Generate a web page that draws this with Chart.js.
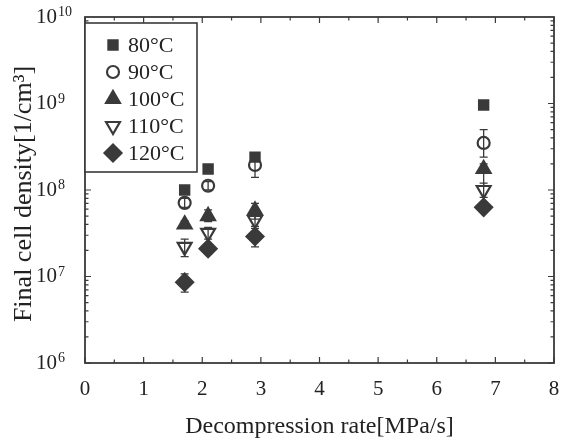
<!DOCTYPE html>
<html>
<head>
<meta charset="utf-8">
<script src="https://cdn.jsdelivr.net/npm/chart.js@4"></script>
<style>
  html, body { margin: 0; padding: 0; background: #fff; }
  #wrap { width: 565px; height: 441px; }
</style>
</head>
<body>
<div id="wrap"><canvas id="cellChart"></canvas></div>
<script>
// decompression rate [MPa/s]
const rates = [1.7, 2.1, 2.9, 6.8];
const temps = ['80\u00b0C', '90\u00b0C', '100\u00b0C', '110\u00b0C', '120\u00b0C'];

// final cell density [1/cm3]
const density80  = [1.0e8, 1.75e8, 2.4e8, 9.6e8];
const density90  = [7.1e7, 1.12e8, 1.95e8, 3.5e8];
const density100 = [4.0e7, 5.0e7, 5.8e7, 1.75e8];
const density110 = [2.2e7, 3.2e7, 4.5e7, 1.0e8];
const density120 = [8.6e6, 2.1e7, 2.9e7, 6.3e7];

// error bars, low / high
const low80  = [9.2e7, 1.65e8, 2.2e8, 8.8e8];
const high80 = [1.08e8, 1.85e8, 2.6e8, 1.05e9];
const low90  = [6.3e7, 1.0e8, 1.4e8, 2.4e8];
const high90 = [8.0e7, 1.25e8, 2.6e8, 5.0e8];
const low100  = [3.6e7, 4.3e7, 4.6e7, 1.1e8];
const high100 = [4.4e7, 5.9e7, 7.0e7, 2.0e8];
const low110  = [1.7e7, 2.7e7, 3.8e7, 8.2e7];
const high110 = [2.7e7, 3.7e7, 5.2e7, 1.2e8];
const low120  = [6.6e6, 1.8e7, 2.2e7, 5.6e7];
const high120 = [1.07e7, 2.4e7, 3.6e7, 7.0e7];

const yTicks = [1e6, 1e7, 1e8, 1e9, 1e10];
const xTicks = [0, 1, 2, 3, 4, 5, 6, 7, 8];

const ink = '#3a3a3a';
const textInk = '#222';
const serif = "'Liberation Serif', 'Times New Roman', serif";

function toPoints(ys, lo, hi) {
    return rates.map((x, i) => ({ x: x, y: ys[i], lo: lo[i], hi: hi[i] }));
}

const styles = [
    { pointStyle: 'rect', radius: 6.5, fill: ink, rot: 0 },
    { pointStyle: 'circle', radius: 6, fill: '#fff', rot: 0 },
    { pointStyle: 'triangle', radius: 8, fill: ink, rot: 0 },
    { pointStyle: 'triangle', radius: 8, fill: '#fff', rot: 180 },
    { pointStyle: 'rectRot', radius: 8.5, fill: ink, rot: 0 }
];
const series = [
    toPoints(density80, low80, high80),
    toPoints(density90, low90, high90),
    toPoints(density100, low100, high100),
    toPoints(density110, low110, high110),
    toPoints(density120, low120, high120)
];

const datasets = temps.map((t, i) => ({
    label: t,
    data: series[i],
    pointStyle: styles[i].pointStyle,
    pointRadius: styles[i].radius,
    pointRotation: styles[i].rot,
    pointBackgroundColor: styles[i].fill,
    pointBorderColor: ink,
    pointBorderWidth: 2.2,
    showLine: false
}));

function noPad(s) {
    s.paddingTop = 0; s.paddingBottom = 0;
    s.paddingLeft = 0; s.paddingRight = 0;
}

// frame, inward ticks and error bars
const framePlugin = {
    id: 'frame',
    afterDatasetsDraw(chart) {
        const c = chart.ctx, a = chart.chartArea;
        const xs = chart.scales.x, ys = chart.scales.y;
        c.save();
        c.strokeStyle = ink;
        // error bars
        c.lineWidth = 1.3;
        chart.data.datasets.forEach(ds => {
            ds.data.forEach(p => {
                const px = xs.getPixelForValue(p.x);
                const y1 = ys.getPixelForValue(p.lo), y2 = ys.getPixelForValue(p.hi);
                c.beginPath();
                c.moveTo(px, y1); c.lineTo(px, y2);
                c.moveTo(px - 4, y1); c.lineTo(px + 4, y1);
                c.moveTo(px - 4, y2); c.lineTo(px + 4, y2);
                c.stroke();
            });
        });
        // border
        c.lineWidth = 1.8;
        c.strokeRect(a.left, a.top, a.right - a.left, a.bottom - a.top);
        c.lineWidth = 1.2;
        c.beginPath();
        for (let v = 0; v <= 8; v += 0.5) {
            const px = xs.getPixelForValue(v);
            const len = Number.isInteger(v) ? 6 : 3.5;
            c.moveTo(px, a.bottom); c.lineTo(px, a.bottom - len);
            c.moveTo(px, a.top); c.lineTo(px, a.top + len);
        }
        for (let e = 6; e < 10; e++) {
            for (let m = 1; m <= 9; m++) {
                const py = ys.getPixelForValue(m * Math.pow(10, e));
                const len = m === 1 ? 6 : 3.5;
                c.moveTo(a.left, py); c.lineTo(a.left + len, py);
                c.moveTo(a.right, py); c.lineTo(a.right - len, py);
            }
        }
        c.stroke();
        c.restore();
    }
};

// exponents of the y labels and the rotated y title
const labelPlugin = {
    id: 'labels',
    afterDraw(chart) {
        const c = chart.ctx, a = chart.chartArea, ys = chart.scales.y;
        c.save();
        c.fillStyle = textInk;
        c.font = '14px ' + serif;
        c.textAlign = 'left';
        c.textBaseline = 'alphabetic';
        yTicks.forEach(v => {
            const py = ys.getPixelForValue(v);
            c.fillText(String(Math.round(Math.log10(v))), a.left - 27, py - 1);
        });
        c.translate(24, 194);
        c.rotate(-Math.PI / 2);
        c.font = '26px ' + serif;
        c.textAlign = 'center';
        c.textBaseline = 'middle';
        c.fillText('Final cell density[1/cm\u00b3]', 0, 0);
        c.restore();
    }
};

// legend box inside the plot
const legendPlugin = {
    id: 'boxLegend',
    afterDraw(chart) {
        const c = chart.ctx, a = chart.chartArea;
        const left = a.left, top = a.top + 6, w = 112, h = 149;
        c.save();
        c.fillStyle = '#fff';
        c.fillRect(left, top, w, h);
        c.strokeStyle = ink;
        c.lineWidth = 1.6;
        c.strokeRect(left, top, w, h);
        c.font = '22px ' + serif;
        c.textBaseline = 'middle';
        chart.data.datasets.forEach((ds, i) => {
            const cy = top + 22 + i * 27;
            const cx = left + 28;
            c.fillStyle = ds.pointBackgroundColor;
            c.strokeStyle = ink;
            c.lineWidth = 2.2;
            Chart.helpers.drawPoint(c, {
                pointStyle: ds.pointStyle,
                rotation: ds.pointRotation,
                radius: ds.pointRadius,
                borderWidth: 2.2
            }, cx, cy);
            c.fillStyle = textInk;
            c.fillText(ds.label, left + 43, cy + 1);
        });
        c.restore();
    }
};

new Chart(document.getElementById('cellChart'), {
    type: 'scatter',
    data: { datasets: datasets },
    options: {
        responsive: true,
        maintainAspectRatio: false,
        animation: false,
        layout: { padding: { top: 17, right: 11, left: 0, bottom: 0 } },
        plugins: {
            legend: { display: false },
            tooltip: { enabled: false }
        },
        scales: {
            x: {
                type: 'linear',
                min: 0,
                max: 8,
                afterBuildTicks: s => { s.ticks = xTicks.map(v => ({ value: v })); },
                grid: { display: false, drawTicks: false },
                border: { display: false },
                ticks: {
                    color: textInk,
                    padding: 14,
                    maxRotation: 0,
                    font: { family: serif, size: 21 }
                },
                title: {
                    display: true,
                    text: 'Decompression rate[MPa/s]',
                    color: textInk,
                    padding: { top: 0, bottom: 0 },
                    font: { family: serif, size: 24 }
                },
                afterFit: s => { s.height = 78; noPad(s); }
            },
            y: {
                type: 'logarithmic',
                min: 1e6,
                max: 1e10,
                afterBuildTicks: s => { s.ticks = yTicks.map(v => ({ value: v })); },
                grid: { display: false, drawTicks: false },
                border: { display: false },
                ticks: {
                    color: textInk,
                    padding: 28,
                    font: { family: serif, size: 21 },
                    callback: () => '10'
                },
                afterFit: s => { s.width = 85; noPad(s); }
            }
        }
    },
    plugins: [framePlugin, labelPlugin, legendPlugin]
});
</script>
</body>
</html>
